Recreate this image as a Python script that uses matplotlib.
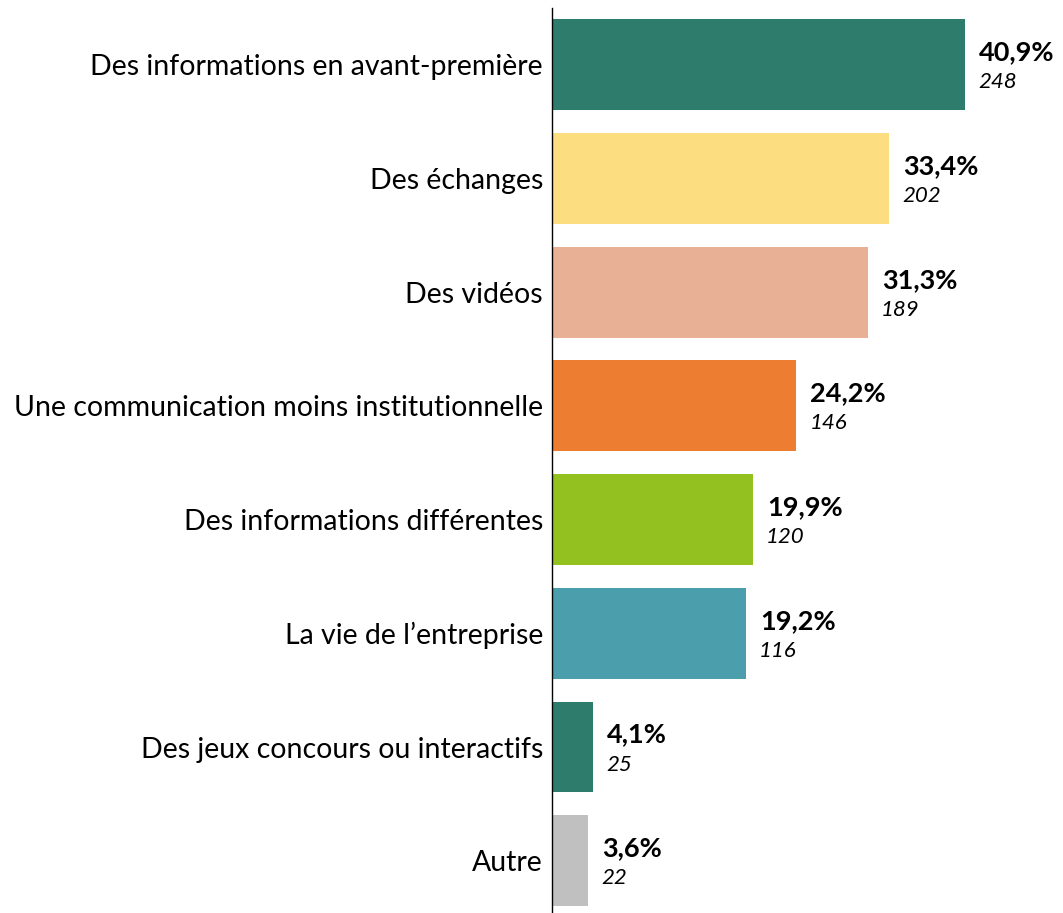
import matplotlib.pyplot as plt
from matplotlib.transforms import ScaledTranslation

# Data
categories = [
    "Des informations en avant-première",
    "Des échanges",
    "Des vidéos",
    "Une communication moins institutionnelle",
    "Des informations différentes",
    "La vie de l\u2019entreprise",
    "Des jeux concours ou interactifs",
    "Autre",
]
percents = [40.9, 33.4, 31.3, 24.2, 19.9, 19.2, 4.1, 3.6]
counts = [248, 202, 189, 146, 120, 116, 25, 22]
colors = ["#2E7D6C", "#FCDE80", "#E8B195", "#ED7D31",
          "#92C120", "#4B9FAD", "#2E7D6C", "#C0C0C0"]

plt.rcParams['font.family'] = ['Lato', 'DejaVu Sans']

fig = plt.figure(figsize=(10.63, 9.13), dpi=100)
ax = fig.add_axes([552 / 1063, 0.0, 511 / 1063, 905 / 913])

y = list(range(len(categories)))
ax.barh(y, percents, height=0.8, color=colors)

for yi, p, n in zip(y, percents, counts):
    ax.annotate(f"{p:.1f}%".replace(".", ","), xy=(p, yi), xytext=(10, 9.0),
                textcoords="offset points", ha="left", va="center",
                fontsize=19.5, fontweight="bold", color="black")
    ax.annotate(str(n), xy=(p, yi), xytext=(9.4, -12.6),
                textcoords="offset points", ha="left", va="center",
                fontsize=16, fontstyle="italic", color="black")

ax.set_yticks(y)
ax.set_yticklabels(categories, fontsize=20.5)
# labels sit a little above the bar centres in the original
shift = ScaledTranslation(0, 3 / 100, fig.dpi_scale_trans)
for lbl in ax.get_yticklabels():
    lbl.set_transform(lbl.get_transform() + shift)
ax.tick_params(axis="y", length=0, pad=6.5)
ax.set_xticks([])
ax.set_xlim(0, 50.6)
ax.set_ylim(7.46, -0.5)

for side in ["top", "right", "bottom"]:
    ax.spines[side].set_visible(False)
ax.spines["left"].set_color("black")
ax.spines["left"].set_linewidth(1.0)

fig.savefig("out.png", dpi=100)
